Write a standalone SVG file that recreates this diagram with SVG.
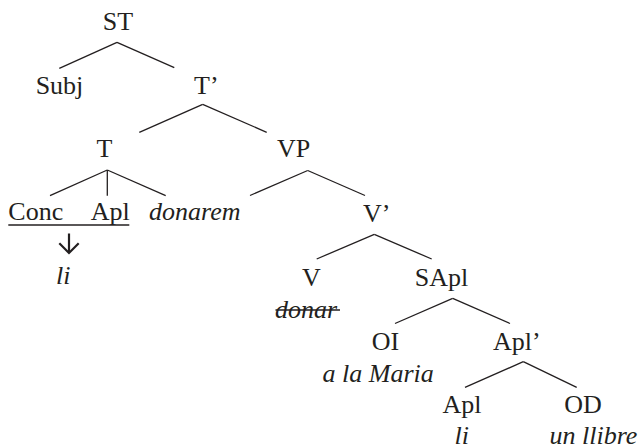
<svg xmlns="http://www.w3.org/2000/svg" width="641" height="448" viewBox="0 0 641 448">
<style>
text{font-family:'Liberation Serif','Times New Roman',Times,serif;font-size:26px;fill:#231f20}
.i{font-style:italic}
.m{text-anchor:middle}
.e line,.e polyline{stroke:#231f20;stroke-width:1.3;fill:none}
.e .arrow{stroke-width:2.2}
</style>
<rect width="641" height="448" fill="#fff"/>
<g id="connectors" class="e">
<line x1="117" y1="42.3" x2="59.3" y2="68.3"/>
<line x1="117" y1="42.3" x2="174.3" y2="67.7"/>
<line x1="202.7" y1="104.3" x2="139.3" y2="132.3"/>
<line x1="202.7" y1="104.3" x2="266.7" y2="132.3"/>
<line x1="107.3" y1="170" x2="50" y2="195.7"/>
<line x1="107.3" y1="170" x2="107.3" y2="195.7"/>
<line x1="107.3" y1="170" x2="165.7" y2="195.7"/>
<line x1="307.7" y1="170.5" x2="250" y2="195.5"/>
<line x1="307.7" y1="170.5" x2="365" y2="195.5"/>
<line x1="374.3" y1="234.3" x2="316.7" y2="259"/>
<line x1="374.3" y1="234.3" x2="431.7" y2="259"/>
<line x1="452.7" y1="298.3" x2="395" y2="323.5"/>
<line x1="452.7" y1="298.3" x2="510" y2="323.5"/>
<line x1="523.3" y1="361.7" x2="465" y2="387.3"/>
<line x1="523.3" y1="361.7" x2="576.7" y2="387.3"/>
<line x1="8.3" y1="225" x2="129.3" y2="225"/>
<line class="arrow" x1="69" y1="233.5" x2="69" y2="252.5"/>
<polyline class="arrow" points="59.3,243.3 69,253 78.7,243.3"/>
<line x1="275.5" y1="310" x2="340" y2="310"/>
</g>
<g id="ST"><text x="118" y="30" class="m">ST</text></g>
<g id="Subj"><text x="59.5" y="94" class="m">Subj</text></g>
<g id="Tbar"><text x="194" y="94">T’</text></g>
<g id="T"><text x="104.5" y="157" class="m">T</text></g>
<g id="VP"><text x="277" y="157">VP</text></g>
<g id="Conc"><text x="8.3" y="220">Conc</text></g>
<g id="AplT"><text x="90.7" y="220">Apl</text></g>
<g id="donarem"><text x="149" y="220" class="i">donarem</text></g>
<g id="li1"><text x="56" y="284" class="i">li</text></g>
<g id="Vbar"><text x="363" y="221.5">V’</text></g>
<g id="V"><text x="311.5" y="286" class="m">V</text></g>
<g id="donar"><text x="275" y="318" class="i">donar</text></g>
<g id="SApl"><text x="441.5" y="286" class="m">SApl</text></g>
<g id="OI"><text x="385.5" y="350" class="m">OI</text></g>
<g id="AlaMaria"><text x="322.5" y="381.5" class="i">a la Maria</text></g>
<g id="Aplbar"><text x="493" y="350">Apl’</text></g>
<g id="Apl"><text x="462" y="413.3" class="m">Apl</text></g>
<g id="li2"><text x="454.5" y="443.5" class="i">li</text></g>
<g id="OD"><text x="583" y="413.3" class="m">OD</text></g>
<g id="unllibre"><text x="549.5" y="443.5" class="i">un llibre</text></g>
</svg>
